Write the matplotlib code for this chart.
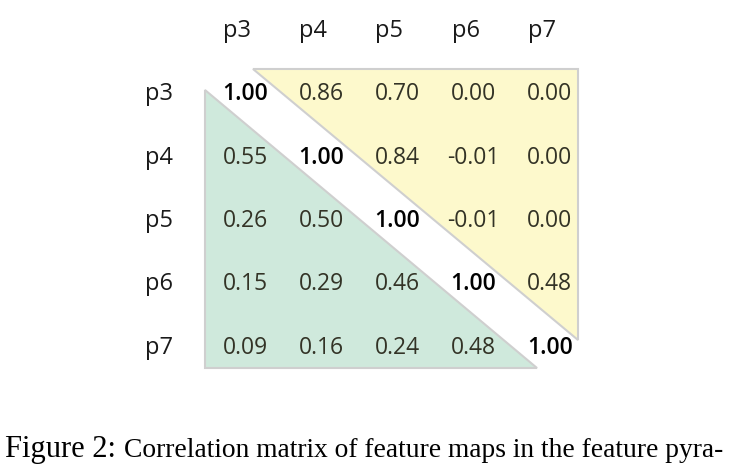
import matplotlib
matplotlib.use("Agg")
import matplotlib.pyplot as plt
from matplotlib.patches import Polygon

labels = ["p3", "p4", "p5", "p6", "p7"]
corr = [
    [1.00, 0.86, 0.70, 0.00, 0.00],
    [0.55, 1.00, 0.84, -0.01, 0.00],
    [0.26, 0.50, 1.00, -0.01, 0.00],
    [0.15, 0.29, 0.46, 1.00, 0.48],
    [0.09, 0.16, 0.24, 0.48, 1.00],
]
caption_head = "Figure 2:"
caption_tail = "Correlation matrix of feature maps in the feature pyra-"

W, H = 729, 468
fig = plt.figure(figsize=(W / 100, H / 100), dpi=100)
ax = fig.add_axes([0, 0, 1, 1])
cx0, dx = 245.0, 76.2
cy0, dy = 94.0, 63.5
ax.set_xlim(-cx0 / dx, (W - cx0) / dx)
ax.set_ylim((H - cy0) / dy, -cy0 / dy)
ax.axis("off")

n = len(labels)
green = "#cfe9dc"
yellow = "#fdf9cc"
edge = "#cfcfcf"

lower = Polygon([(-0.525, -0.063), (-0.525, n - 1 + 0.315), (n - 1 - 0.17, n - 1 + 0.315)],
                closed=True, facecolor=green, edgecolor=edge, linewidth=1.5, zorder=1)
upper = Polygon([(0.105, -0.394), (n - 1 + 0.37, -0.394), (n - 1 + 0.37, n - 1 - 0.126)],
                closed=True, facecolor=yellow, edgecolor=edge, linewidth=1.5, zorder=1)
ax.add_patch(lower)
ax.add_patch(upper)

font = "Open Sans"
for j, lab in enumerate(labels):
    ax.text(j - 0.29, -1.0, lab, ha="left", va="center", fontsize=17, family=font, color="#1a1a1a")
    ax.text(-1.13, j, lab, ha="center", va="center", fontsize=17, family=font, color="#1a1a1a")

for i in range(n):
    for j in range(n):
        v = corr[i][j]
        if i == j:
            col, wt = "#000000", "semibold"
        else:
            col, wt = "#333326", "normal"
        ax.text(j, i, f"{v:.2f}", ha="center", va="center", fontsize=16.5,
                family=font, color=col, fontweight=wt, zorder=3)

fig.text(5 / W, 1 - 457 / H, caption_head, fontsize=22, family="Liberation Serif",
         color="#000000", ha="left", va="baseline")
fig.text(124 / W, 1 - 457 / H, caption_tail, fontsize=19.8, family="Liberation Serif",
         color="#000000", ha="left", va="baseline")

fig.savefig("out.png", dpi=100)
